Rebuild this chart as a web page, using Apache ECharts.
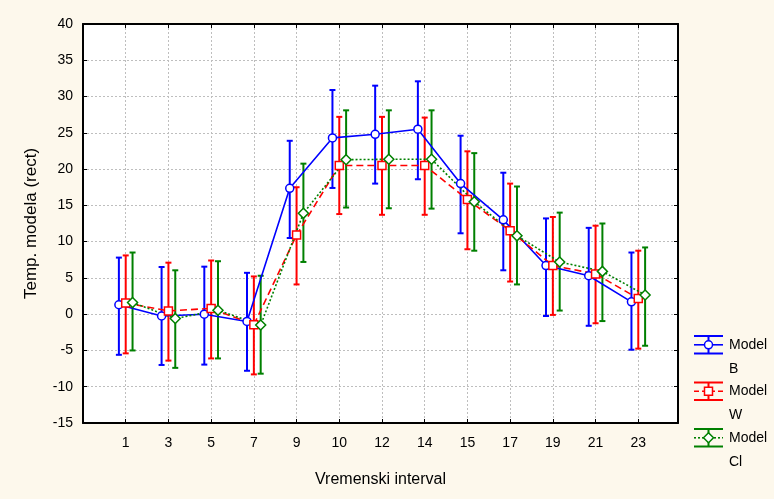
<!DOCTYPE html>
<html>
<head>
<meta charset="utf-8">
<script src="https://cdn.jsdelivr.net/npm/echarts@6/dist/echarts.min.js"></script>
<style>
html,body{margin:0;padding:0;background:#FDF8EC;}
#c{width:774px;height:499px;}
</style>
</head>
<body>
<div id="c"></div>
<script>
const categories = ['1','3','5','7','9','10','12','14','15','17','19','21','23'];
const yTicks = [-15,-10,-5,0,5,10,15,20,25,30,35,40];

const meanB = [1.3, -0.25, 0.0, -1.0, 17.35, 24.3, 24.8, 25.5, 18.0, 13.0, 6.7, 5.3, 1.7];
const hiB   = [7.8, 6.5, 6.55, 5.7, 23.9, 30.9, 31.5, 32.1, 24.6, 19.5, 13.2, 11.9, 8.5];
const loB   = [-5.6, -7.0, -6.95, -7.8, 10.5, 17.4, 18.0, 18.6, 11.15, 6.05, -0.25, -1.6, -4.9];

const meanW = [1.55, 0.45, 0.8, -1.45, 10.9, 20.5, 20.5, 20.5, 15.8, 11.5, 6.7, 5.55, 2.15];
const hiW   = [8.1, 7.1, 7.4, 5.2, 17.5, 27.2, 27.2, 27.1, 22.45, 18.0, 13.4, 12.2, 8.75];
const loW   = [-5.4, -6.4, -6.1, -8.3, 4.1, 13.8, 13.7, 13.7, 8.95, 4.5, -0.1, -1.25, -4.75];

const meanCl = [1.6, -0.6, 0.55, -1.5, 13.9, 21.3, 21.35, 21.35, 15.5, 10.8, 7.2, 5.9, 2.65];
const hiCl   = [8.5, 6.05, 7.3, 5.3, 20.75, 28.1, 28.1, 28.1, 22.2, 17.6, 14.0, 12.5, 9.2];
const loCl   = [-5.0, -7.4, -6.1, -8.2, 7.2, 14.7, 14.6, 14.55, 8.75, 4.1, 0.5, -0.95, -4.35];

const seriesNames = ['Model B', 'Model W', 'Model Cl'];
const colors = ['#0000FF', '#FF0000', '#008000'];
const offsets = [-0.16, 0, 0.16];

const chart = echarts.init(document.getElementById('c'), null, {renderer:'canvas'});
const FONT = 'Liberation Sans, Arial, sans-serif';

function pts(mean, off){ return mean.map((v,i)=>[i+1+off, v]); }
function bars(lo, hi, off){ return lo.map((v,i)=>[i+1+off, v, hi[i]]); }

function errRender(color){
  return function(params, api){
    const x = api.value(0), lo = api.value(1), hi = api.value(2);
    const a = api.coord([x, hi]), b = api.coord([x, lo]);
    const w = 3;
    const st = {stroke: color, lineWidth: 2};
    return {type:'group', children:[
      {type:'line', shape:{x1:a[0], y1:a[1], x2:b[0], y2:b[1]}, style:st},
      {type:'line', shape:{x1:a[0]-w, y1:a[1], x2:a[0]+w, y2:a[1]}, style:st},
      {type:'line', shape:{x1:b[0]-w, y1:b[1], x2:b[0]+w, y2:b[1]}, style:st}
    ]};
  };
}

const means = [meanB, meanW, meanCl];
const his = [hiB, hiW, hiCl];
const los = [loB, loW, loCl];
const lineTypes = ['solid', [7,4], [2,2]];
const symbols = ['circle', 'rect', 'diamond'];
const symSizes = [8, 8, 10];

const series = [];
for (let k=0;k<3;k++){
  series.push({
    type:'custom', name: seriesNames[k]+' err', xAxisIndex:0, yAxisIndex:0,
    renderItem: errRender(colors[k]),
    data: bars(los[k], his[k], offsets[k]),
    encode:{x:0, y:[1,2]}, z:2, silent:true
  });
}
for (let k=0;k<3;k++){
  series.push({
    type:'line', name: seriesNames[k], xAxisIndex:0, yAxisIndex:0,
    data: pts(means[k], offsets[k]),
    symbol: symbols[k], symbolSize: symSizes[k], showAllSymbol:true,
    lineStyle:{color:colors[k], width:1.6, type:lineTypes[k]},
    itemStyle:{color:'#FFFFFF', borderColor:colors[k], borderWidth:1.5},
    z:3, silent:true, animation:false
  });
}

function legendItem(i, yTop, sym){
  const c = colors[i];
  const cx = 708.5, x1 = 694, x2 = 723;
  const yB = yTop + 17.5, yM = yTop + 8.8;
  const st = {stroke:c, lineWidth:2};
  const ls = {stroke:c, lineWidth:1.6, lineDash: i===0?null:(i===1?[5,3]:[2,2])};
  const items = [
    {type:'line', shape:{x1:x1,y1:yTop,x2:x2,y2:yTop}, style:st},
    {type:'line', shape:{x1:x1,y1:yB,x2:x2,y2:yB}, style:st},
    {type:'line', shape:{x1:cx,y1:yTop,x2:cx,y2:yB}, style:st},
    {type:'line', shape:{x1:x1,y1:yM,x2:x2,y2:yM}, style:ls}
  ];
  if (sym==='circle') items.push({type:'circle', shape:{cx:cx,cy:yM,r:4}, style:{fill:'#fff', stroke:c, lineWidth:1.5}});
  if (sym==='rect') items.push({type:'rect', shape:{x:cx-4,y:yM-4,width:8,height:8}, style:{fill:'#fff', stroke:c, lineWidth:1.5}});
  if (sym==='diamond') items.push({type:'polygon', shape:{points:[[cx,yM-5],[cx+5,yM],[cx,yM+5],[cx-5,yM]]}, style:{fill:'#fff', stroke:c, lineWidth:1.5}});
  const names = ['B','W','Cl'];
  items.push({type:'text', x:729, y:yM, style:{text:'Model', fill:'#000', font:'14px '+FONT, verticalAlign:'middle'}});
  items.push({type:'text', x:729, y:yM+24, style:{text:names[i], fill:'#000', font:'14px '+FONT, verticalAlign:'middle'}});
  return items;
}

const graphics = [].concat(
  legendItem(0, 336, 'circle'),
  legendItem(1, 382.5, 'rect'),
  legendItem(2, 429, 'diamond')
);

const xFmt = function(v){
  const i = Math.round(v);
  if (Math.abs(v-i) > 1e-6 || i < 1 || i > categories.length) return '';
  return categories[i-1];
};

const option = {
  backgroundColor:'#FDF8EC',
  animation:false,
  grid:{left:83, top:24, right:96, bottom:76, show:true, backgroundColor:'#FFFFFF', borderColor:'#000', borderWidth:0, containLabel:false},
  xAxis:[{
    type:'value', min:0, max:13.93, interval:1, position:'bottom',
    name:'Vremenski interval', nameLocation:'middle', nameGap:49,
    nameTextStyle:{fontFamily:FONT, fontSize:16, color:'#000'},
    axisLine:{show:true, onZero:false, lineStyle:{color:'#000', width:2}},
    axisTick:{show:true, inside:true, length:4, lineStyle:{color:'#000'}},
    axisLabel:{formatter:xFmt, fontFamily:FONT, fontSize:14, color:'#000', margin:13, showMinLabel:false, showMaxLabel:false},
    splitLine:{show:true, lineStyle:{color:'#BEBEBE', type:[2,2], width:1}}
  },{
    type:'value', min:0, max:13.93, interval:1, position:'top',
    axisLine:{show:true, onZero:false, lineStyle:{color:'#000', width:2}},
    axisTick:{show:true, inside:true, length:4, lineStyle:{color:'#000'}},
    axisLabel:{show:false}, splitLine:{show:false}
  }],
  yAxis:[{
    type:'value', min:-15, max:40, interval:5, position:'left',
    name:'Temp. modela (rect)', nameLocation:'middle', nameGap:43, nameRotate:90,
    nameTextStyle:{fontFamily:FONT, fontSize:17, color:'#000'},
    axisLine:{show:true, onZero:false, lineStyle:{color:'#000', width:2}},
    axisTick:{show:true, inside:true, length:4, lineStyle:{color:'#000'}},
    axisLabel:{fontFamily:FONT, fontSize:14, color:'#000', margin:10,
      formatter:function(v){ return yTicks.indexOf(v)>=0 ? String(v) : ''; }},
    splitLine:{show:true, lineStyle:{color:'#BEBEBE', type:[2,2], width:1}}
  },{
    type:'value', min:-15, max:40, interval:5, position:'right',
    axisLine:{show:true, onZero:false, lineStyle:{color:'#000', width:2}},
    axisTick:{show:true, inside:true, length:4, lineStyle:{color:'#000'}},
    axisLabel:{show:false}, splitLine:{show:false}
  }],
  series: series,
  graphic: graphics
};
chart.setOption(option);
</script>
</body>
</html>
